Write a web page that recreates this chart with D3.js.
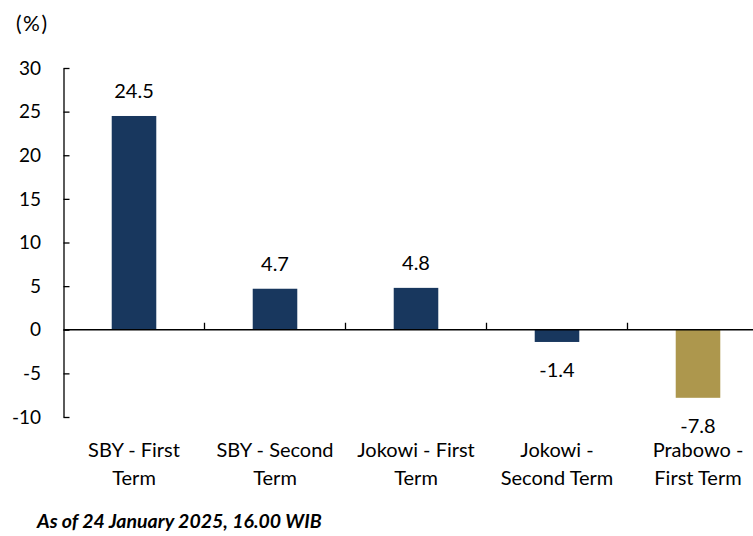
<!DOCTYPE html>
<html>
<head>
<meta charset="utf-8">
<script src="https://cdn.jsdelivr.net/npm/d3@7"></script>
<style>
  html, body { margin: 0; padding: 0; background: #fff; }
  svg { display: block; font-family: Lato, "Open Sans", sans-serif; }
</style>
</head>
<body>
<svg id="chart" width="753" height="536"></svg>
<script>
const categories = ["SBY - First Term", "SBY - Second Term", "Jokowi - First Term", "Jokowi - Second Term", "Prabowo - First Term"];
const categoryLines = [["SBY - First", "Term"], ["SBY - Second", "Term"], ["Jokowi - First", "Term"], ["Jokowi -", "Second Term"], ["Prabowo -", "First Term"]];
const values = [24.5, 4.7, 4.8, -1.4, -7.8];
const valueLabels = ["24.5", "4.7", "4.8", "-1.4", "-7.8"];
const yTicks = [30, 25, 20, 15, 10, 5, 0, -5, -10];
const unitLabel = "(%)";
const note = "As of 24 January 2025, 16.00 WIB";

const navy = "#18375e";
const gold = "#ad974d";
const barColors = [navy, navy, navy, navy, gold];

const svg = d3.select("#chart");

const y = d3.scaleLinear().domain([-10, 30]).range([417, 68]);
const x = d3.scaleBand().domain(categories).range([63.5, 768.5]).paddingInner(0.684).paddingOuter(0.342);

const axisX = 63.5;

// bars
svg.selectAll("rect.bar").data(values).join("rect")
  .attr("class", "bar")
  .attr("x", (d, i) => x(categories[i]))
  .attr("width", x.bandwidth())
  .attr("y", d => y(Math.max(0, d)))
  .attr("height", d => Math.abs(y(d) - y(0)))
  .attr("fill", (d, i) => barColors[i]);

// y axis
const yAxis = d3.axisRight(y).tickValues(yTicks).tickSize(6).tickSizeOuter(0).tickFormat("");
const gy = svg.append("g").attr("transform", `translate(${axisX},0)`).call(yAxis);
gy.selectAll("path, line").attr("stroke", "#000").attr("stroke-width", 1.3);

svg.selectAll("text.ytick").data(yTicks).join("text")
  .attr("class", "ytick")
  .attr("x", 41)
  .attr("y", d => y(d))
  .attr("dy", "0.35em")
  .attr("text-anchor", "end")
  .attr("font-size", 19)
  .attr("fill", "#000")
  .text(d => d);

// x axis (zero line)
const step = x.step();
const boundaries = categories.slice(0, -1).map(c => x(c) + x.bandwidth() / 2 + step / 2);
svg.append("line")
  .attr("x1", axisX).attr("x2", 753)
  .attr("y1", y(0)).attr("y2", y(0))
  .attr("stroke", "#000").attr("stroke-width", 1.3);
svg.selectAll("line.xtick").data(boundaries).join("line")
  .attr("class", "xtick")
  .attr("x1", d => d).attr("x2", d => d)
  .attr("y1", y(0)).attr("y2", y(0) - 7)
  .attr("stroke", "#000").attr("stroke-width", 1.3);

// value labels
svg.selectAll("text.val").data(values).join("text")
  .attr("class", "val")
  .attr("x", (d, i) => x(categories[i]) + x.bandwidth() / 2)
  .attr("y", d => d >= 0 ? y(d) - 18 : y(d) + 35)
  .attr("text-anchor", "middle")
  .attr("font-size", 20)
  .attr("fill", "#000")
  .text((d, i) => valueLabels[i]);

// category labels
const catG = svg.selectAll("g.cat").data(categoryLines).join("g")
  .attr("class", "cat")
  .attr("transform", (d, i) => `translate(${x(categories[i]) + x.bandwidth() / 2},0)`);
catG.selectAll("text").data(d => d).join("text")
  .attr("x", 0)
  .attr("y", (d, j) => 456.5 + j * 28.5)
  .attr("text-anchor", "middle")
  .attr("font-size", 20)
  .attr("fill", "#000")
  .text(d => d);

// unit label
svg.append("text").attr("x", 16).attr("y", 31)
  .attr("font-size", 21).attr("letter-spacing", 1.5).attr("fill", "#000").text(unitLabel);

// note
svg.append("text").attr("x", 37).attr("y", 528)
  .attr("font-size", 19.5).attr("font-weight", "bold").attr("font-style", "italic")
  .attr("fill", "#000").text(note);
</script>
</body>
</html>
